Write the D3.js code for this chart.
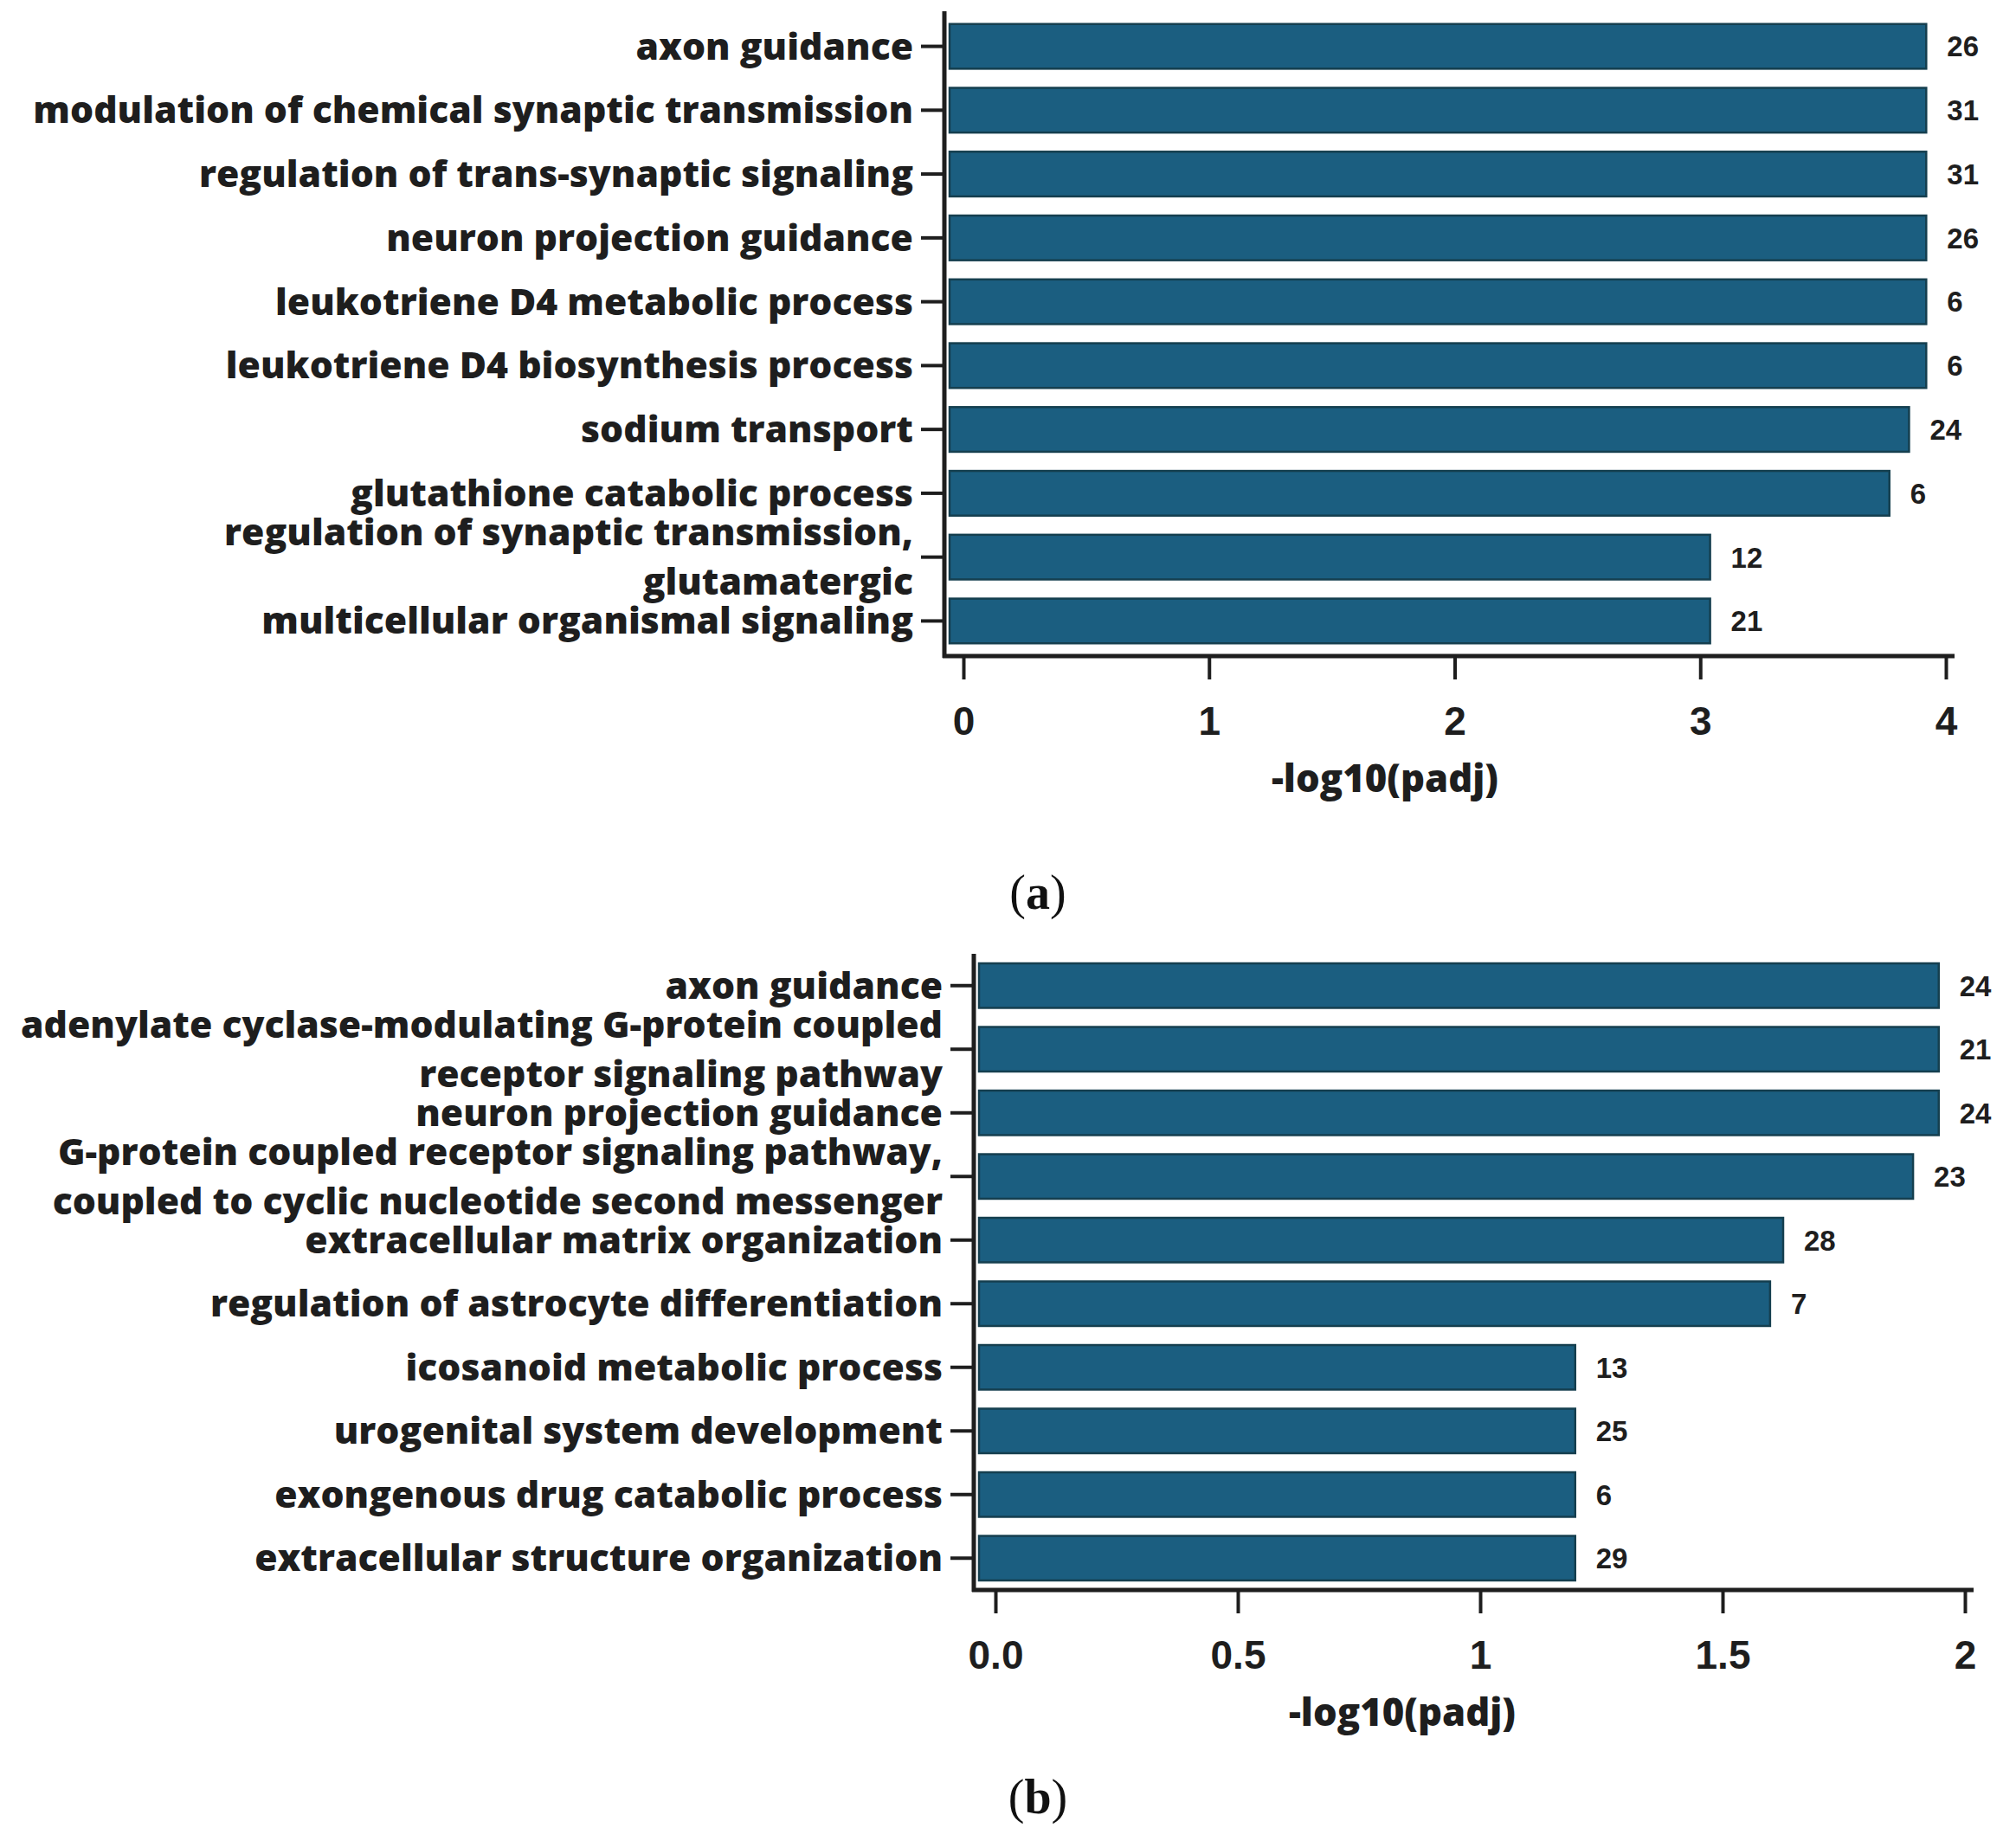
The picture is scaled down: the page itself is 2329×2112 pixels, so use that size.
<!DOCTYPE html>
<html>
<head>
<meta charset="utf-8">
<script src="https://cdn.jsdelivr.net/npm/d3@7"></script>
<style>
body { margin: 0; background: #fff; }
</style>
</head>
<body>
<div class="container"></div>
<script>
////////////////////////////////////////////////////////////////
// DATA
////////////////////////////////////////////////////////////////
var catsA = ["axon guidance",
  "modulation of chemical synaptic transmission",
  "regulation of trans-synaptic signaling",
  "neuron projection guidance",
  "leukotriene D4 metabolic process",
  "leukotriene D4 biosynthesis process",
  "sodium transport",
  "glutathione catabolic process",
  "regulation of synaptic transmission,\nglutamatergic",
  "multicellular organismal signaling"];
var valsA = [3.92, 3.92, 3.92, 3.92, 3.92, 3.92, 3.85, 3.77, 3.04, 3.04]; // -log10(padj)
var countsA = [26, 31, 31, 26, 6, 6, 24, 6, 12, 21]; // gene counts
var ticksA = [0, 1, 2, 3, 4];
var tickLabelsA = ["0", "1", "2", "3", "4"];

var catsB = ["axon guidance",
  "adenylate cyclase-modulating G-protein coupled\nreceptor signaling pathway",
  "neuron projection guidance",
  "G-protein coupled receptor signaling pathway,\ncoupled to cyclic nucleotide second messenger",
  "extracellular matrix organization",
  "regulation of astrocyte differentiation",
  "icosanoid metabolic process",
  "urogenital system development",
  "exongenous drug catabolic process",
  "extracellular structure organization"];
var valsB = [1.946, 1.946, 1.946, 1.893, 1.625, 1.598, 1.196, 1.196, 1.196, 1.196];
var countsB = [24, 21, 24, 23, 28, 7, 13, 25, 6, 29];
var ticksB = [0, 0.5, 1, 1.5, 2];
var tickLabelsB = ["0.0", "0.5", "1", "1.5", "2"];

var xTitle = "-log10(padj)";

////////////////////////////////////////////////////////////////
// STYLE
////////////////////////////////////////////////////////////////
var LABELFONT = "'Open Sans', Lato, sans-serif";
var NUMFONT = "'Liberation Sans', Arial, sans-serif";
var INK = "#1e1e1e";
var BARFILL = "#1b5e80";
var BARSTROKE = "#153f4f";
var LABELWEIGHT = 800;

////////////////////////////////////////////////////////////////
// STAGE
////////////////////////////////////////////////////////////////
var svg = d3.select(".container")
  .append("svg")
  .attr("width", 2329)
  .attr("height", 2112);

svg.append("rect").attr("width", 2329).attr("height", 2112).attr("fill", "#fff");

function textWidth(str, size, family, weight) {
  var t = svg.append("text")
    .attr("font-size", size)
    .attr("font-family", family)
    .attr("font-weight", weight)
    .text(str);
  var w = t.node().getComputedTextLength();
  t.remove();
  return w;
}

// size the label face so the longest label of (a) keeps its width
var longest = "modulation of chemical synaptic transmission";
var labelSize = 40 * 1017 / textWidth(longest, 40, LABELFONT, LABELWEIGHT);
var titleSize = 40 * 262 / textWidth(xTitle, 40, LABELFONT, LABELWEIGHT);

////////////////////////////////////////////////////////////////
// DRAW ONE PANEL
////////////////////////////////////////////////////////////////
function drawPanel(p) {
  var g = svg.append("g");

  var x = d3.scaleLinear()
    .domain([p.ticks[0], p.ticks[p.ticks.length - 1]])
    .range([p.x0, p.x1]);

  var y = d3.scaleBand()
    .domain(p.cats)
    .range([p.top, p.bottom])
    .paddingInner(0.3)
    .paddingOuter(p.outer);

  // bars
  g.selectAll("rect.bar")
    .data(p.vals)
    .enter().append("rect")
    .attr("class", "bar")
    .attr("x", p.axisX + 6)
    .attr("y", function(d, i) { return y(p.cats[i]); })
    .attr("width", function(d) { return x(d) - p.axisX - 6; })
    .attr("height", y.bandwidth())
    .attr("fill", BARFILL)
    .attr("stroke", BARSTROKE)
    .attr("stroke-width", 2.5);

  // counts at bar ends
  g.selectAll("text.count")
    .data(p.counts)
    .enter().append("text")
    .attr("class", "count")
    .attr("x", function(d, i) { return x(p.vals[i]) + 24; })
    .attr("y", function(d, i) { return y(p.cats[i]) + y.bandwidth() / 2; })
    .attr("dy", "0.36em")
    .attr("font-family", NUMFONT)
    .attr("font-weight", 700)
    .attr("font-size", 33)
    .attr("fill", INK)
    .text(function(d) { return d; });

  // x axis
  var xAxis = d3.axisBottom(x)
    .tickValues(p.ticks)
    .tickFormat(function(d, i) { return p.tickLabels[i]; })
    .tickSizeOuter(0)
    .tickSize(27);

  var ax = g.append("g")
    .attr("transform", "translate(0," + p.bottom + ")")
    .call(xAxis);
  ax.select(".domain").remove();
  ax.selectAll(".tick line").attr("stroke", INK).attr("stroke-width", 4);
  ax.selectAll(".tick text")
    .attr("y", 58)
    .attr("fill", INK)
    .attr("font-family", NUMFONT)
    .attr("font-weight", 700)
    .attr("font-size", 46);

  g.append("line")
    .attr("x1", p.axisX - 2).attr("x2", x(p.ticks[p.ticks.length - 1]) + 10)
    .attr("y1", p.bottom).attr("y2", p.bottom)
    .attr("stroke", INK).attr("stroke-width", 5);

  // y axis
  g.append("line")
    .attr("x1", p.axisX).attr("x2", p.axisX)
    .attr("y1", p.top).attr("y2", p.bottom + 2)
    .attr("stroke", INK).attr("stroke-width", 5);

  g.selectAll("line.ytick")
    .data(p.cats)
    .enter().append("line")
    .attr("class", "ytick")
    .attr("x1", p.axisX - 27).attr("x2", p.axisX)
    .attr("y1", function(d) { return y(d) + y.bandwidth() / 2; })
    .attr("y2", function(d) { return y(d) + y.bandwidth() / 2; })
    .attr("stroke", INK).attr("stroke-width", 4);

  // category labels, split on newline
  var lineGap = 57;
  g.selectAll("text.cat")
    .data(p.cats)
    .enter().append("text")
    .attr("class", "cat")
    .attr("text-anchor", "end")
    .attr("font-family", LABELFONT)
    .attr("font-weight", LABELWEIGHT)
    .attr("font-size", labelSize)
    .attr("fill", INK)
    .each(function(d) {
      var lines = d.split("\n");
      var cy = y(d) + y.bandwidth() / 2;
      var t = d3.select(this);
      lines.forEach(function(s, k) {
        t.append("tspan")
          .attr("x", p.axisX - 36)
          .attr("y", cy + (k - (lines.length - 1) / 2) * lineGap)
          .attr("dy", "0.35em")
          .text(s);
      });
    });

  // axis title
  g.append("text")
    .attr("x", p.titleX)
    .attr("y", p.bottom + 142)
    .attr("dy", "0.35em")
    .attr("text-anchor", "middle")
    .attr("font-family", LABELFONT)
    .attr("font-weight", LABELWEIGHT)
    .attr("font-size", titleSize)
    .attr("fill", INK)
    .text(xTitle);

  // panel letter
  var pl = g.append("text")
    .attr("x", p.letterX)
    .attr("y", p.letterY)
    .attr("dy", "0.35em")
    .attr("text-anchor", "middle")
    .attr("font-family", "'Liberation Serif', 'DejaVu Serif', serif")
    .attr("font-size", 56)
    .attr("fill", "#111");
  pl.append("tspan").text("(");
  pl.append("tspan").attr("font-weight", 700).text(p.letter);
  pl.append("tspan").text(")");
}

drawPanel({
  cats: catsA, vals: valsA, counts: countsA, ticks: ticksA, tickLabels: tickLabelsA,
  axisX: 1091, top: 13, bottom: 758, x0: 1113, x1: 2248, outer: 0.2,
  titleX: 1600, letter: "a", letterX: 1199, letterY: 1030
});

drawPanel({
  cats: catsB, vals: valsB, counts: countsB, ticks: ticksB, tickLabels: tickLabelsB,
  axisX: 1125, top: 1102, bottom: 1837, x0: 1150, x1: 2270, outer: 0.15,
  titleX: 1620, letter: "b", letterX: 1199, letterY: 2075
});
</script>
</body>
</html>
